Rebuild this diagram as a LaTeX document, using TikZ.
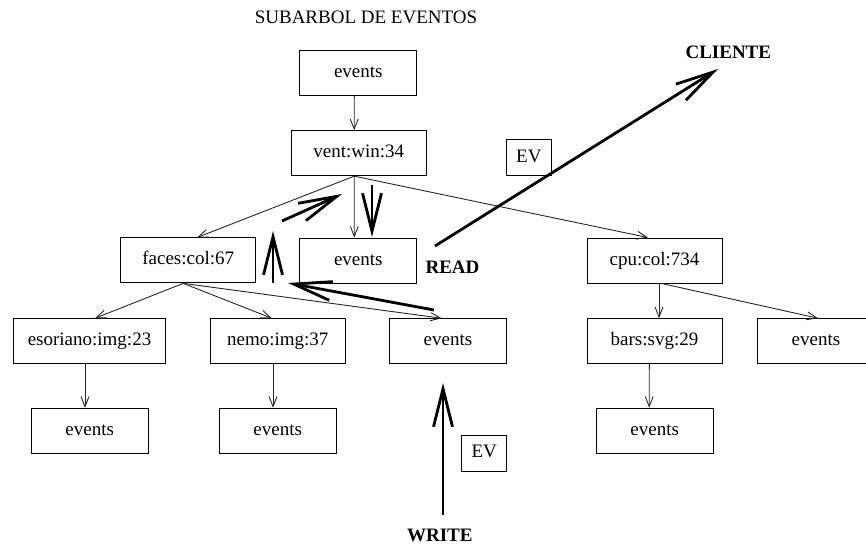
\documentclass[tikz,border=0pt]{standalone}
\usepackage{fontspec}
\setmainfont{Liberation Serif}
\usetikzlibrary{arrows.meta}

\newcommand{\figfont}{\fontsize{19}{22}\selectfont}

\tikzset{
  box/.style={draw, line width=0.9pt, minimum height=45pt, inner sep=0pt,
              text height=13pt, text depth=4pt},
  evbox/.style={box, minimum width=117pt},
  keybox/.style={box, minimum width=135pt},
  tagbox/.style={draw, line width=0.9pt, minimum width=45pt, minimum height=36pt,
                 inner sep=0pt, text height=13pt, text depth=4pt},
  label/.style={anchor=base, inner sep=0pt, font=\figfont\bfseries},
  link/.style={line width=0.9pt, draw=black!85,
               -{Straight Barb[length=10pt,width=8pt]}},
  flow/.style={line width=2.8pt,
               -{Straight Barb[length=38pt,width=19pt]}}
}

\begin{document}
\begin{tikzpicture}[x=1pt, y=-1pt, font=\figfont]
\useasboundingbox (0,0) rectangle (866,546);
\clip (0,0) rectangle (866,546);

% title
\node[anchor=base, inner sep=0pt] (title) at (366,23.3) {SUBARBOL DE EVENTOS};

% tree of nodes
\node[evbox]  (topev) at (358.3,72.5)  {events};
\node[keybox] (vent)  at (358.7,153.2) {vent:win:34};
\node[keybox] (faces) at (188.2,260.4) {faces:col:67};
\node[evbox]  (midev) at (358.3,260.5) {events};
\node[keybox] (cpu)   at (654.5,260.5) {cpu:col:734};
\node[box, minimum width=152pt] (esor) at (89.5,341.2) {esoriano:img:23};
\node[keybox] (nemo)  at (277.8,341.2) {nemo:img:37};
\node[evbox]  (ev3)   at (448,341.2)   {events};
\node[keybox] (bars)  at (654.5,341.2) {bars:svg:29};
\node[evbox]  (evr)   at (816,341.2)   {events};
\node[evbox]  (bev1)  at (89.7,430.7)  {events};
\node[evbox]  (bev2)  at (277.7,430.7) {events};
\node[evbox]  (bev3)  at (654.7,430.7) {events};

% event tags
\node[tagbox] (tagup) at (528.8,157.5) {EV};
\node[tagbox] (tagdn) at (484.2,453)   {EV};

% operation labels
\node[label] (client) at (728.3,58.3)  {CLIENTE};
\node[label] (read)   at (452.5,273)   {READ};
\node[label] (write)  at (439.8,541.7) {WRITE};

% tree links
\draw[link] ([xshift=-4]topev.south)  -- ([xshift=-4.5]vent.north);
\draw[link] ([xshift=-4.5]vent.south) -- ([xshift=9]faces.north);
\draw[link] ([xshift=-4.5]vent.south) -- ([xshift=-4]midev.north);
\draw[link] ([xshift=-4.5]vent.south) -- ([xshift=-6.5]cpu.north);
\draw[link] ([xshift=-5]faces.south)  -- ([xshift=5.5]esor.north);
\draw[link] ([xshift=-5]faces.south)  -- ([xshift=-6]nemo.north);
\draw[link] ([xshift=-5]faces.south)  -- ([xshift=-6.3]ev3.north);
\draw[link] ([xshift=4.5]cpu.south)   -- ([xshift=4.5]bars.north);
\draw[link] ([xshift=7]cpu.south)     -- ([xshift=2]evr.north);
\draw[link] ([xshift=-4.5]esor.south) -- ([xshift=-4.7]bev1.north);
\draw[link] ([xshift=-4.8]nemo.south) -- ([xshift=-4.7]bev2.north);
\draw[link] ([xshift=-5.2]bars.south) -- ([xshift=-5.5]bev3.north);

% event flow
\coordinate (w0) at (443,515);  \coordinate (w1) at (443,383);
\coordinate (u0) at (434,310);  \coordinate (u1) at (288,283);
\coordinate (f0) at (273,283);  \coordinate (f1) at (273,231);
\coordinate (s0) at (282,221);  \coordinate (s1) at (342,194);
\coordinate (d0) at (372,185);  \coordinate (d1) at (372,237);
\coordinate (r0) at (435,246);  \coordinate (r1) at (718,69);

\draw[flow] (w0) -- (w1);
\draw[flow] (u0) -- (u1);
\draw[flow] (f0) -- (f1);
\draw[flow] (s0) -- (s1);
\draw[flow] (d0) -- (d1);
\draw[flow] (r0) -- (r1);
\end{tikzpicture}
\end{document}
